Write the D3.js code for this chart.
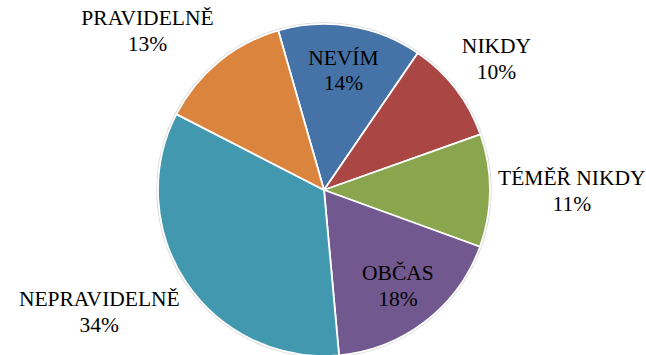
<!DOCTYPE html>
<html>
<head>
<meta charset="utf-8">
<script src="https://cdn.jsdelivr.net/npm/d3@7"></script>
<style>
  html, body { margin: 0; padding: 0; background: #fff; }
  svg { display: block; }
  svg text { font-family: "Times New Roman", "Liberation Serif", serif !important; }
</style>
</head>
<body>
<svg id="chart" width="646" height="355"></svg>
<script>
// Survey answers, clockwise from the top
const categories = ["NEVÍM", "NIKDY", "TÉMĚŘ NIKDY", "OBČAS", "NEPRAVIDELNĚ", "PRAVIDELNĚ"];
const shares = [14, 10, 11, 18, 34, 13];
const colors = ["#4572A7", "#AA4643", "#89A54E", "#71588F", "#4198AF", "#DB843D"];
// Labels drawn inside their slice (the rest sit outside the rim)
const insideLabels = ["NEVÍM", "OBČAS"];

const width = 646, height = 355;
const cx = 324, cy = 190, R = 166;
const fontSize = 21.5, lineGap = 25.5;

const svg = d3.select("#chart");
const g = svg.append("g").attr("transform", `translate(${cx},${cy})`);

const rot = -16 * Math.PI / 180;
const pie = d3.pie().sort(null).value(d => d.v)
  .startAngle(rot).endAngle(rot + 2 * Math.PI);
const data = pie(categories.map((c, i) => ({ c, v: shares[i], col: colors[i] })));

const arc = d3.arc().innerRadius(0).outerRadius(R);

// faint rim shadow
g.append("circle").attr("r", R + 1).attr("fill", "none")
  .attr("stroke", "#d8d8d8").attr("stroke-width", 1.5);

g.selectAll("path.slice").data(data).join("path")
  .attr("class", "slice")
  .attr("d", arc)
  .attr("fill", d => d.data.col)
  .attr("stroke", "#fff")
  .attr("stroke-width", 1.8)
  .attr("stroke-linejoin", "round");

// each label is a group of two lines: category name and share
const labels = g.selectAll("g.lbl").data(data).join("g").attr("class", "lbl");

labels.each(function (d) {
  const t = d3.select(this);
  [d.data.c, d.data.v + "%"].forEach((txt, i) => {
    t.append("text")
      .attr("x", 0).attr("y", i * lineGap)
      .attr("text-anchor", "middle")
      .attr("font-family", "Times New Roman")
      .attr("font-size", fontSize)
      .attr("fill", "#000")
      .text(txt);
  });
});

const clamp = v => Math.max(-1, Math.min(1, v));
labels.attr("transform", function (d) {
  const mid = (d.startAngle + d.endAngle) / 2;
  const s = Math.sin(mid), c = Math.cos(mid);
  const bb = this.getBBox();
  const w = bb.width, h = bb.height;
  let x, y;
  if (insideLabels.includes(d.data.c)) {
    x = s * R * 0.73;
    y = -c * R * 0.73;
  } else {
    const r = R + 8;
    x = s * r + (w / 2) * clamp(s * 3);
    y = -c * r - (h / 2) * clamp(c * 3);
  }
  // center the two-line block on (x, y)
  const oy = y - (bb.y + h / 2);
  return `translate(${x},${oy})`;
});
</script>
</body>
</html>
